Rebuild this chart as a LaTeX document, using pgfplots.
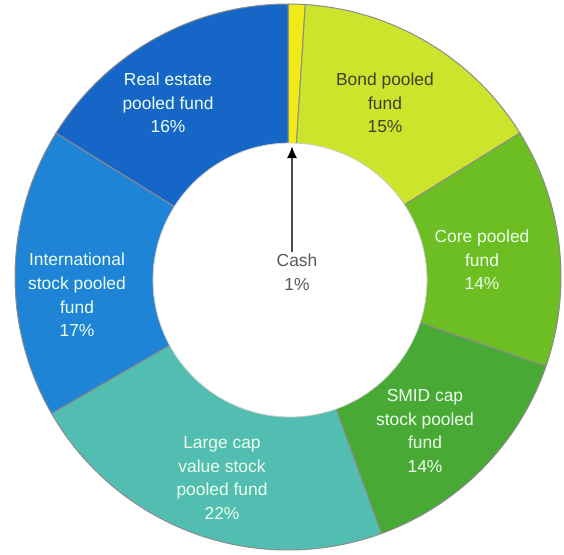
\documentclass[border=0pt]{standalone}
\usepackage{fontspec}
\setmainfont{Liberation Sans}
\usepackage{pgfplots}
\usepackage{pgfplotstable}
\pgfplotsset{compat=1.18}
\usetikzlibrary{arrows.meta}

\definecolor{c0}{HTML}{F2EA16}
\definecolor{c1}{HTML}{CDE42C}
\definecolor{c2}{HTML}{6CBE22}
\definecolor{c3}{HTML}{48AA34}
\definecolor{c4}{HTML}{52BEB2}
\definecolor{c5}{HTML}{2084D6}
\definecolor{c6}{HTML}{1666C8}

% share of each fund, clockwise from the top
\pgfplotstableread{
name value
Cash 1
Bond 15
Core 14
SMID 14
Large 22
Intl 17
RealEstate 16
}\slices

\begin{document}
\begin{tikzpicture}
\begin{axis}[
    hide axis,
    scale only axis,
    width=282pt, height=277pt,
    xmin=0, xmax=564, ymin=0, ymax=554,
    clip=false,
]
\path (axis cs:0,0) rectangle (axis cs:564,554);
\def\total{0}
\pgfplotsforeachungrouped \i in {0,...,6}{
    \pgfplotstablegetelem{\i}{value}\of\slices
    \pgfmathsetmacro\total{\total+\pgfplotsretval}
}
\def\cum{0}
\pgfplotsforeachungrouped \i in {0,...,6}{
    \pgfplotstablegetelem{\i}{value}\of\slices
    \pgfmathsetmacro\a{90-\cum/\total*360}
    \pgfmathsetmacro\cum{\cum+\pgfplotsretval}
    \pgfmathsetmacro\b{90-\cum/\total*360}
    \edef\temp{\noexpand\addplot[fill=c\i, draw=black!45, line width=0.5pt,
        domain=\b:\a, samples=80]
        ({288+273*cos(x)},{277+273*sin(x)}) -- (axis cs:288,277) -- cycle;}
    \temp
}
\addplot[fill=white, draw=black!20, line width=0.4pt, domain=0:360, samples=150]
    ({290+137*cos(x)},{274+137*sin(x)}) -- cycle;

\draw[gray!60!black, line width=1pt, -{Latex[length=6pt, width=5pt, color=black]}]
    (axis cs:292,302) -- (axis cs:292,408);

\tikzset{lbl/.style={align=center, font=\fontsize{8.7}{11.8}\selectfont}}
\node[lbl, text=white!92!green] at (axis cs:168,451) {Real estate\\pooled fund\\16\%};
\node[lbl, text=black!70!olive] at (axis cs:385,451) {Bond pooled\\fund\\15\%};
\node[lbl, text=white!92!green] at (axis cs:482,294) {Core pooled\\fund\\14\%};
\node[lbl, text=white!92!green] at (axis cs:425,123) {SMID cap\\stock pooled\\fund\\14\%};
\node[lbl, text=white!92!green] at (axis cs:222,76) {Large cap\\value stock\\pooled fund\\22\%};
\node[lbl, text=white!92!green] at (axis cs:77,259) {International\\stock pooled\\fund\\17\%};
\node[lbl, text=black!65] at (axis cs:297,282) {Cash\\1\%};
\end{axis}
\end{tikzpicture}
\end{document}
